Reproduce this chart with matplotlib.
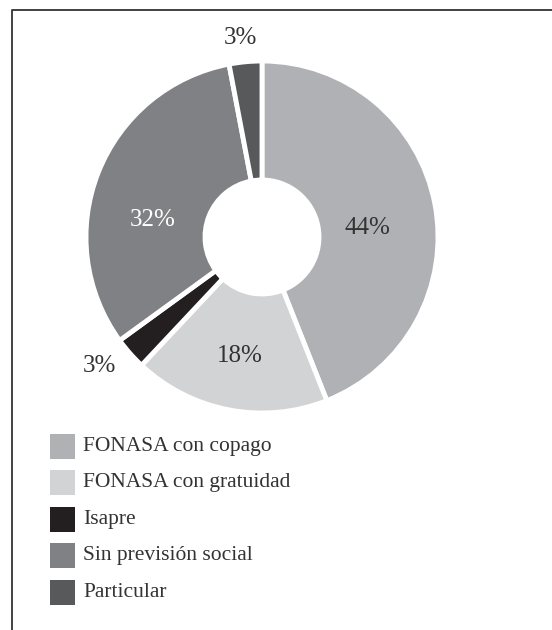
import numpy as np
import matplotlib.pyplot as plt
from matplotlib.patches import Rectangle

categories = ["FONASA con copago", "FONASA con gratuidad", "Isapre",
              "Sin previsión social", "Particular"]
shares = [44, 18, 3, 32, 3]
colors = ["#b0b1b4", "#d2d3d5", "#231f20", "#808184", "#58595b"]
label_colors = ["#333333", "#333333", "#333333", "#ffffff", "#333333"]

W, H = 552, 630
fig = plt.figure(figsize=(W / 100, H / 100), dpi=100)
ax = fig.add_axes([0, 0, 1, 1])

font = "Liberation Serif"

cx, cy = 262, H - 237
r_out, r_in = 176, 57
wedges, _ = ax.pie(shares, colors=colors, startangle=90, counterclock=False,
                   center=(cx, cy), radius=r_out, frame=True,
                   wedgeprops=dict(width=r_out - r_in, edgecolor="white", linewidth=3.5))
ax.set_xlim(0, W)
ax.set_ylim(0, H)
ax.set_aspect("equal")
ax.axis("off")

# frame (left and top edges only visible)
ax.plot([12, 12, W], [0, H - 10, H - 10], color="#333333", lw=1.3)

# label placement: (radius, angle offset in degrees) relative to wedge middle
label_place = [(106, -6), (121, 0), (208, -3), (111, 13), (200, 0.8)]
for w, s, c, (rr, da) in zip(wedges, shares, label_colors, label_place):
    mid = np.deg2rad((w.theta1 + w.theta2) / 2 + da)
    ax.text(cx + rr * np.cos(mid), cy + rr * np.sin(mid), f"{s}%",
            ha="center", va="center", fontsize=18, color=c, family=font)

# legend
y0, step, sq = H - 446, 36.6, 25
for i, (name, col) in enumerate(zip(categories, colors)):
    yc = y0 - i * step
    ax.add_patch(Rectangle((50, yc - sq / 2), sq, sq, facecolor=col, edgecolor="none"))
    ax.text(83, yc, name, ha="left", va="center", fontsize=15.5,
            color="#333333", family=font)

fig.savefig("out.png", dpi=100)
